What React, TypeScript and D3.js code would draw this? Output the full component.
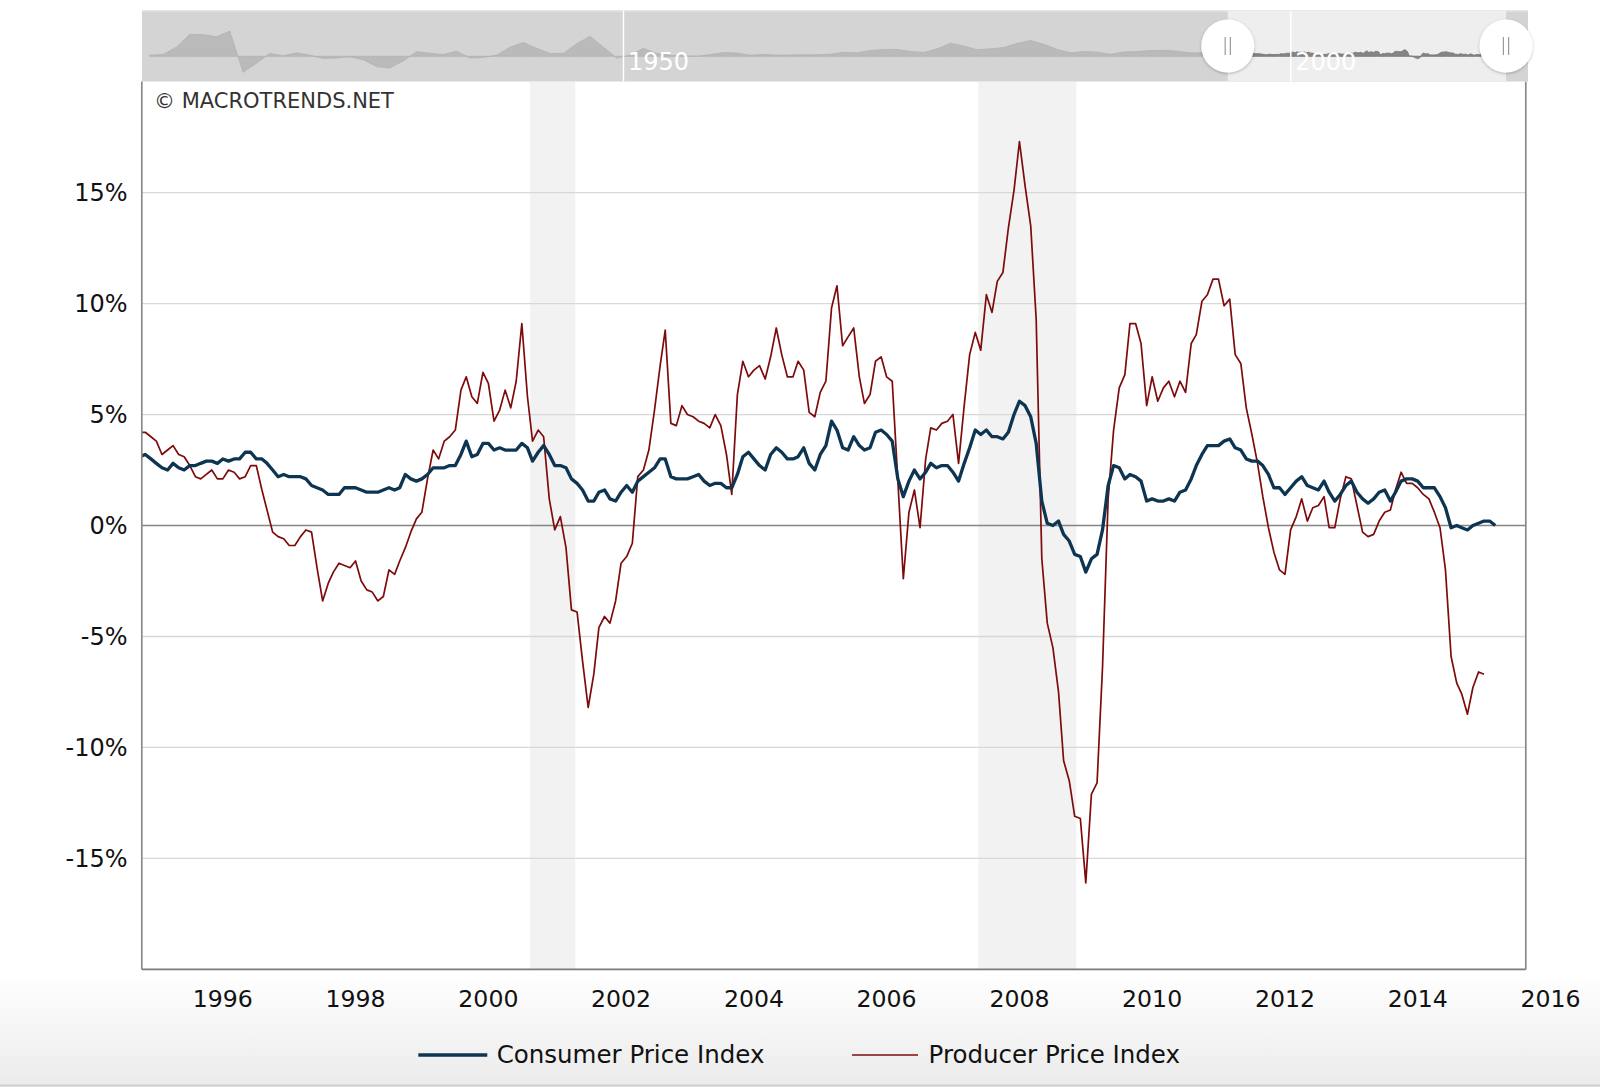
import React, { useEffect } from "react";
import * as d3 from "d3";

// ---------- DATA ----------
// Monthly year-over-year change (%), starting April 1995
const seriesStartYear = 1995;
const seriesStartMonth = 3; // April (0-based)

const cpiValues: number[] = [
  // 1995 Apr-Dec
  3.1, 3.2, 3.0, 2.8, 2.6, 2.5, 2.8, 2.6, 2.5,
  // 1996
  2.7, 2.7, 2.8, 2.9, 2.9, 2.8, 3.0, 2.9, 3.0, 3.0, 3.3, 3.3,
  // 1997
  3.0, 3.0, 2.8, 2.5, 2.2, 2.3, 2.2, 2.2, 2.2, 2.1, 1.8, 1.7,
  // 1998
  1.6, 1.4, 1.4, 1.4, 1.7, 1.7, 1.7, 1.6, 1.5, 1.5, 1.5, 1.6,
  // 1999
  1.7, 1.6, 1.7, 2.3, 2.1, 2.0, 2.1, 2.3, 2.6, 2.6, 2.6, 2.7,
  // 2000
  2.7, 3.2, 3.8, 3.1, 3.2, 3.7, 3.7, 3.4, 3.5, 3.4, 3.4, 3.4,
  // 2001
  3.7, 3.5, 2.9, 3.3, 3.6, 3.2, 2.7, 2.7, 2.6, 2.1, 1.9, 1.6,
  // 2002
  1.1, 1.1, 1.5, 1.6, 1.2, 1.1, 1.5, 1.8, 1.5, 2.0, 2.2, 2.4,
  // 2003
  2.6, 3.0, 3.0, 2.2, 2.1, 2.1, 2.1, 2.2, 2.3, 2.0, 1.8, 1.9,
  // 2004
  1.9, 1.7, 1.7, 2.3, 3.1, 3.3, 3.0, 2.7, 2.5, 3.2, 3.5, 3.3,
  // 2005
  3.0, 3.0, 3.1, 3.5, 2.8, 2.5, 3.2, 3.6, 4.7, 4.3, 3.5, 3.4,
  // 2006
  4.0, 3.6, 3.4, 3.5, 4.2, 4.3, 4.1, 3.8, 2.1, 1.3, 2.0, 2.5,
  // 2007
  2.1, 2.4, 2.8, 2.6, 2.7, 2.7, 2.4, 2.0, 2.8, 3.5, 4.3, 4.1,
  // 2008
  4.3, 4.0, 4.0, 3.9, 4.2, 5.0, 5.6, 5.4, 4.9, 3.7, 1.1, 0.1,
  // 2009
  0.0, 0.2, -0.4, -0.7, -1.3, -1.4, -2.1, -1.5, -1.3, -0.2, 1.8, 2.7,
  // 2010
  2.6, 2.1, 2.3, 2.2, 2.0, 1.1, 1.2, 1.1, 1.1, 1.2, 1.1, 1.5,
  // 2011
  1.6, 2.1, 2.7, 3.2, 3.6, 3.6, 3.6, 3.8, 3.9, 3.5, 3.4, 3.0,
  // 2012
  2.9, 2.9, 2.7, 2.3, 1.7, 1.7, 1.4, 1.7, 2.0, 2.2, 1.8, 1.7,
  // 2013
  1.6, 2.0, 1.5, 1.1, 1.4, 1.8, 2.0, 1.5, 1.2, 1.0, 1.2, 1.5,
  // 2014
  1.6, 1.1, 1.5, 2.0, 2.1, 2.1, 2.0, 1.7, 1.7, 1.7, 1.3, 0.8,
  // 2015 Jan-Sep
  -0.1, 0.0, -0.1, -0.2, 0.0, 0.1, 0.2, 0.2, 0.0,
];

const ppiValues: number[] = [
  4.2, 4.2, 4.0, 3.8, 3.2, 3.4, 3.6, 3.2, 3.1, 2.7,
  2.2, 2.1, 2.3, 2.5, 2.1, 2.1, 2.5, 2.4, 2.1, 2.2,
  2.7, 2.7, 1.6, 0.7, -0.3, -0.5, -0.6, -0.9, -0.9, -0.5,
  -0.2, -0.3, -1.9, -3.4, -2.6, -2.1, -1.7, -1.8, -1.9, -1.6,
  -2.5, -2.9, -3.0, -3.4, -3.2, -2.0, -2.2, -1.6, -1.0, -0.3,
  0.3, 0.6, 2.1, 3.4, 3.0, 3.8, 4.0, 4.3, 6.1, 6.7,
  5.8, 5.5, 6.9, 6.4, 4.7, 5.2, 6.1, 5.3, 6.5, 9.1,
  5.8, 3.8, 4.3, 4.0, 1.2, -0.2, 0.4, -1.0, -3.8, -3.9,
  -6.1, -8.2, -6.7, -4.6, -4.1, -4.4, -3.4, -1.7, -1.4, -0.8,
  2.2, 2.5, 3.4, 5.2, 7.2, 8.8, 4.6, 4.5, 5.4, 5.0,
  4.9, 4.7, 4.6, 4.4, 5.0, 4.5, 3.2, 1.4, 5.9, 7.4,
  6.7, 7.0, 7.2, 6.6, 7.6, 8.9, 7.7, 6.7, 6.7, 7.4,
  7.0, 5.1, 4.9, 6.0, 6.5, 9.8, 10.8, 8.1, 8.5, 8.9,
  6.7, 5.5, 5.9, 7.4, 7.6, 6.7, 6.5, 2.0, -2.4, 0.6,
  1.6, -0.1, 3.0, 4.4, 4.3, 4.6, 4.7, 5.0, 2.8, 5.4,
  7.7, 8.7, 7.9, 10.4, 9.6, 11.0, 11.4, 13.4, 15.1, 17.3,
  15.3, 13.5, 9.3, -1.5, -4.4, -5.5, -7.5, -10.6, -11.5, -13.1,
  -13.2, -16.1, -12.1, -11.6, -6.4, 1.2, 4.3, 6.2, 6.8, 9.1,
  9.1, 8.2, 5.4, 6.7, 5.6, 6.2, 6.5, 5.8, 6.5, 6.0,
  8.2, 8.6, 10.1, 10.4, 11.1, 11.1, 9.9, 10.2, 7.7, 7.3,
  5.3, 4.1, 2.8, 1.3, -0.1, -1.2, -2.0, -2.2, -0.2, 0.4,
  1.2, 0.2, 0.8, 0.9, 1.3, -0.1, -0.1, 1.2, 2.2, 2.1,
  0.9, -0.3, -0.5, -0.4, 0.2, 0.6, 0.7, 1.6, 2.4, 1.9,
  1.9, 1.7, 1.4, 1.2, 0.6, -0.1, -2.0, -5.9, -7.1, -7.6,
  -8.5, -7.3, -6.6, -6.7,
];

// Long-history CPI (annual, mid-year) for the navigator mini-chart
const navHistoryStartYear = 1914;
const navHistoryValues: number[] = [
  1.0, 1.5, 8.0, 19.0, 19.0, 17.0, 22.0, -14.0, -6.0, 2.5, // 1914-1923
  0.5, 3.0, 1.0, -2.0, -1.5, -0.5, -3.0, -9.0, -10.2, -4.0, // 1924-1933
  4.0, 2.6, 1.5, 4.5, -1.5, -1.0, 1.0, 8.0, 12.0, 7.0, // 1934-1943
  2.5, 2.5, 11.0, 17.5, 8.0, -1.5, 1.0, 7.0, 2.5, 0.8, // 1944-1953
  0.5, 0.0, 1.5, 3.3, 2.8, 1.0, 1.7, 1.0, 1.2, 1.3, // 1954-1963
  1.3, 1.8, 3.5, 3.0, 5.0, 6.0, 6.0, 4.2, 3.4, 6.5, // 1964-1973
  11.5, 9.0, 5.8, 6.5, 7.6, 11.3, 13.8, 10.5, 6.0, 3.0, // 1974-1983
  4.2, 3.6, 1.8, 3.8, 4.1, 5.0, 5.2, 4.5, 3.0, 3.0, // 1984-1993
  2.6, // 1994
];

const recessions: [string, string][] = [
  ["2001-02-16", "2001-10-22"],
  ["2007-11-18", "2009-05-10"],
];

const yTicks = [-15, -10, -5, 0, 5, 10, 15];
const xTickYears = [1996, 1998, 2000, 2002, 2004, 2006, 2008, 2010, 2012, 2014, 2016];
const navLabelYears = [1950, 2000];

const seriesNames = ["Consumer Price Index", "Producer Price Index"];
const seriesColors = ["#0d3552", "#7d0b0b"];

// ---------- LAYOUT ----------
const W = 1600;
const H = 1087;
const plot = { left: 141.8, right: 1525.8, top: 81.6, bottom: 969.4 };
const nav = { left: 142, right: 1528, top: 10.5, bottom: 81.5 };
const FONT = "'DejaVu Sans', Verdana, sans-serif";

const monthDate = (i: number) =>
  new Date(seriesStartYear, seriesStartMonth + i, 1);

export default function App() {
  useEffect(() => {
    document.body.style.margin = "0";
    document.body.style.background = "#ffffff";
  }, []);

  const x = d3
    .scaleTime()
    .domain([new Date(1995, 3, 12), new Date(2016, 1, 16)])
    .range([plot.left, plot.right]);
  const y = d3.scaleLinear().domain([-20, 20]).range([plot.bottom, plot.top]);

  const line = d3
    .line<number>()
    .x((_, i) => x(monthDate(i)))
    .y((d) => y(d));

  // navigator scales
  const nx = d3
    .scaleTime()
    .domain([new Date(1950, 0, 1), new Date(2000, 0, 1)])
    .range([623.5, 1290.8]);
  const ny = d3.scaleLinear().domain([-22, 40]).range([nav.bottom, nav.top]);

  type P = { d: Date; v: number };
  const navPoints: P[] = [
    ...navHistoryValues.map((v, k) => ({ d: new Date(navHistoryStartYear + k, 6, 1), v })),
    ...cpiValues.map((v, i) => ({ d: monthDate(i), v })),
  ];
  const navArea = d3
    .area<P>()
    .x((p) => nx(p.d))
    .y0(ny(0))
    .y1((p) => ny(p.v));

  const selL = nx(x.domain()[0]);
  const selR = nx(x.domain()[1]);

  const grip = (cx: number, key: string) => (
    <g key={key}>
      <circle cx={cx} cy={46} r={26.5} fill="#ffffff" filter="url(#gripShadow)" />
      <line x1={cx - 2.6} x2={cx - 2.6} y1={37} y2={55} stroke="#9a9a9a" strokeWidth={1.2} />
      <line x1={cx + 2.6} x2={cx + 2.6} y1={37} y2={55} stroke="#9a9a9a" strokeWidth={1.2} />
    </g>
  );

  return (
    <svg
      width={W}
      height={H}
      viewBox={`0 0 ${W} ${H}`}
      style={{ position: "absolute", left: 0, top: 0, background: "#fff" }}
    >
      <defs>
        <linearGradient id="bottomGrad" x1="0" y1="0" x2="0" y2="1">
          <stop offset="0" stopColor="#ffffff" />
          <stop offset="1" stopColor="#ebebeb" />
        </linearGradient>
        <clipPath id="plotClip">
          <rect x={plot.left} y={plot.top} width={plot.right - plot.left} height={plot.bottom - plot.top} />
        </clipPath>
        <clipPath id="navClip">
          <rect x={nav.left} y={nav.top} width={nav.right - nav.left} height={nav.bottom - nav.top} />
        </clipPath>
        <clipPath id="navSelClip">
          <rect x={selL} y={nav.top} width={selR - selL} height={nav.bottom - nav.top} />
        </clipPath>
        <filter id="gripShadow" x="-30%" y="-30%" width="160%" height="160%">
          <feDropShadow dx="0" dy="1" stdDeviation="1.6" floodColor="#000" floodOpacity="0.28" />
        </filter>
      </defs>

      {/* bottom gradient strip */}
      <rect x={0} y={972} width={W} height={H - 972} fill="url(#bottomGrad)" />
      <line x1={0} x2={W} y1={1085.5} y2={1085.5} stroke="#cfcfcf" strokeWidth={2} />

      {/* recession bands */}
      {recessions.map(([a, b], k) => {
        const x0 = x(new Date(a));
        const x1 = x(new Date(b));
        return (
          <rect key={k} x={x0} y={plot.top} width={x1 - x0} height={plot.bottom - plot.top} fill="#f2f2f2" />
        );
      })}

      {/* grid lines */}
      {yTicks
        .filter((t) => t !== 0)
        .map((t) => (
          <line key={t} x1={plot.left} x2={plot.right} y1={y(t)} y2={y(t)} stroke="#d8d8d8" strokeWidth={1.3} />
        ))}
      <line x1={plot.left} x2={plot.right} y1={y(0)} y2={y(0)} stroke="#858585" strokeWidth={1.4} />

      {/* series */}
      <g clipPath="url(#plotClip)">
        <path d={line(ppiValues) || ""} fill="none" stroke={seriesColors[1]} strokeWidth={1.7} strokeLinejoin="round" />
        <path d={line(cpiValues) || ""} fill="none" stroke={seriesColors[0]} strokeWidth={3.3} strokeLinejoin="round" />
      </g>

      {/* frame */}
      <line x1={plot.left} x2={plot.left} y1={plot.top} y2={plot.bottom} stroke="#8a8a8a" strokeWidth={1.7} />
      <line x1={plot.right} x2={plot.right} y1={plot.top} y2={plot.bottom} stroke="#8a8a8a" strokeWidth={1.7} />
      <line x1={plot.left} x2={plot.right} y1={plot.bottom} y2={plot.bottom} stroke="#7a7a7a" strokeWidth={1.7} />

      {/* y tick labels */}
      {yTicks.map((t) => (
        <text
          key={t}
          x={127.5}
          y={y(t)}
          dy="0.36em"
          textAnchor="end"
          fontFamily={FONT}
          fontSize={24}
          fill="#111"
        >
          {`${t}%`}
        </text>
      ))}

      {/* x tick labels */}
      {xTickYears.map((yr) => (
        <text
          key={yr}
          x={x(new Date(yr, 6, 1))}
          y={1006.7}
          textAnchor="middle"
          fontFamily={FONT}
          fontSize={23.6}
          fill="#111"
        >
          {yr}
        </text>
      ))}

      {/* watermark */}
      <text x={154} y={107.7} fontFamily={FONT} fontSize={21} fill="#333">
        © MACROTRENDS.NET
      </text>

      {/* navigator */}
      <rect x={nav.left} y={nav.top} width={nav.right - nav.left} height={nav.bottom - nav.top} fill="#d4d4d4" />
      <line x1={nav.left} x2={nav.right} y1={nav.top + 0.5} y2={nav.top + 0.5} stroke="#e3e3e3" strokeWidth={1.5} />
      <rect x={selL} y={nav.top} width={selR - selL} height={nav.bottom - nav.top} fill="#eeeeee" />
      <g clipPath="url(#navClip)">
        <path d={navArea(navPoints) || ""} fill="#bababa" stroke="#b3b3b3" strokeWidth={0.8} />
      </g>
      <g clipPath="url(#navSelClip)">
        <path d={navArea(navPoints) || ""} fill="#858585" stroke="#7a7a7a" strokeWidth={0.8} />
      </g>
      {navLabelYears.map((yr) => {
        const lx = nx(new Date(yr, 0, 1));
        return (
          <g key={yr}>
            <line x1={lx} x2={lx} y1={nav.top} y2={nav.bottom} stroke="#ffffff" strokeWidth={1.5} />
            <text x={lx + 4.5} y={69.5} fontFamily={FONT} fontSize={24} fill="#ffffff">
              {yr}
            </text>
          </g>
        );
      })}
      {grip(selL, "gl")}
      {grip(selR, "gr")}

      {/* legend */}
      <line x1={418.3} x2={487.3} y1={1055} y2={1055} stroke={seriesColors[0]} strokeWidth={3.3} />
      <text x={496.7} y={1063.3} fontFamily={FONT} fontSize={24.5} fill="#111">
        {seriesNames[0]}
      </text>
      <line x1={852} x2={918} y1={1055} y2={1055} stroke={seriesColors[1]} strokeWidth={1.7} />
      <text x={928.6} y={1063.3} fontFamily={FONT} fontSize={24.5} fill="#111">
        {seriesNames[1]}
      </text>
    </svg>
  );
}
